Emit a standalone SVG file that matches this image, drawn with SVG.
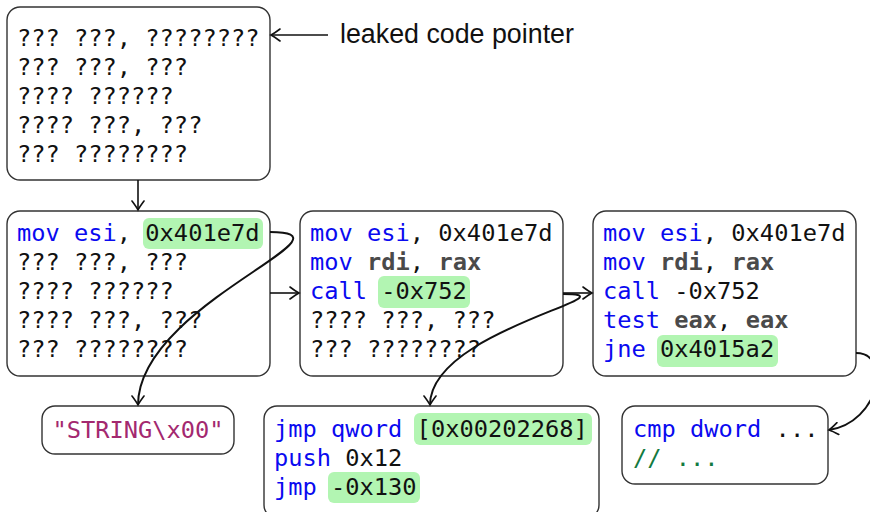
<svg xmlns="http://www.w3.org/2000/svg" width="870" height="512" viewBox="0 0 870 512">
<defs>
<style>
.box{fill:#fff;stroke:#333;stroke-width:1.4}
.hl{fill:#b2f5b2}
.code{font-family:"DejaVu Sans Mono",monospace;font-size:23.7px;fill:#111}
.k{fill:#0a0af0}
.r{fill:#4a4a4a;font-weight:bold}
.s{fill:#a3286f}
.c{fill:#137a40}
.lbl{font-family:"Liberation Sans",Arial,sans-serif;font-size:26.8px;fill:#111}
.ln{fill:none;stroke:#111;stroke-width:1.6}
.cv{fill:none;stroke:#111;stroke-width:2}
</style>
<marker id="arr" viewBox="-11 -7 13 14" refX="0" refY="0" markerWidth="13" markerHeight="14" orient="auto" markerUnits="userSpaceOnUse">
<path d="M -9 -6 Q -3 -1.5 0 0 Q -3 1.5 -9 6" fill="none" stroke="#111" stroke-width="1.6" stroke-linecap="round"/>
</marker>
</defs>
<rect width="870" height="512" fill="#fff"/>

<g id="leak">
<rect class="box" x="7" y="7" width="263" height="173" rx="13"/>
<text class="code" x="17" y="46">??? ???, ????????</text>
<text class="code" x="17" y="75">??? ???, ???</text>
<text class="code" x="17" y="104">???? ??????</text>
<text class="code" x="17" y="133">???? ???, ???</text>
<text class="code" x="17" y="162">??? ????????</text>
</g>

<g id="label">
<text class="lbl" x="340" y="43">leaked code pointer</text>
</g>

<g id="blockA">
<rect class="box" x="7" y="211" width="263" height="165" rx="13"/>
<rect class="hl" x="143" y="218" width="120" height="31" rx="6"/>
<text class="code" x="17" y="241"><tspan class="k">mov esi</tspan>, 0x401e7d</text>
<text class="code" x="17" y="270">??? ???, ???</text>
<text class="code" x="17" y="299">???? ??????</text>
<text class="code" x="17" y="328">???? ???, ???</text>
<text class="code" x="17" y="357">??? ????????</text>
</g>

<g id="blockB">
<rect class="box" x="300" y="211" width="263" height="165" rx="13"/>
<rect class="hl" x="378" y="276" width="92" height="32" rx="6"/>
<text class="code" x="310" y="241"><tspan class="k">mov esi</tspan>, 0x401e7d</text>
<text class="code" x="310" y="270"><tspan class="k">mov</tspan> <tspan class="r">rdi</tspan>, <tspan class="r">rax</tspan></text>
<text class="code" x="310" y="299"><tspan class="k">call</tspan> -0x752</text>
<text class="code" x="310" y="328">???? ???, ???</text>
<text class="code" x="310" y="357">??? ????????</text>
</g>

<g id="blockC">
<rect class="box" x="593" y="211" width="263" height="165" rx="13"/>
<rect class="hl" x="657" y="335" width="121" height="32" rx="6"/>
<text class="code" x="603" y="241"><tspan class="k">mov esi</tspan>, 0x401e7d</text>
<text class="code" x="603" y="270"><tspan class="k">mov</tspan> <tspan class="r">rdi</tspan>, <tspan class="r">rax</tspan></text>
<text class="code" x="603" y="299"><tspan class="k">call</tspan> -0x752</text>
<text class="code" x="603" y="328"><tspan class="k">test</tspan> <tspan class="r">eax</tspan>, <tspan class="r">eax</tspan></text>
<text class="code" x="603" y="357"><tspan class="k">jne</tspan> 0x4015a2</text>
</g>

<g id="string">
<rect class="box" x="42" y="406" width="192" height="48" rx="13"/>
<text class="code s" x="138" y="438" text-anchor="middle">"STRING\x00"</text>
</g>

<g id="plt">
<rect class="box" x="264" y="406" width="335" height="112" rx="13"/>
<rect class="hl" x="414" y="413" width="178" height="32" rx="6"/>
<rect class="hl" x="328" y="472" width="92" height="31" rx="6"/>
<text class="code" x="274" y="437"><tspan class="k">jmp qword</tspan> [0x00202268]</text>
<text class="code" x="274" y="466"><tspan class="k">push</tspan> 0x12</text>
<text class="code" x="274" y="495"><tspan class="k">jmp</tspan> -0x130</text>
</g>

<g id="target">
<rect class="box" x="622" y="406" width="206" height="78" rx="13"/>
<text class="code" x="633" y="437"><tspan class="k">cmp dword</tspan> ...</text>
<text class="code c" x="633" y="466">// ...</text>
</g>

<g id="connectors">
<path class="ln" d="M 328 35 L 271 35" marker-end="url(#arr)"/>
<path class="ln" d="M 138 180 L 138 210" marker-end="url(#arr)"/>
<path class="ln" d="M 270 293 L 299 293" marker-end="url(#arr)"/>
<path class="ln" d="M 563 293 L 592 293" marker-end="url(#arr)"/>
<path class="cv" d="M 270 232 C 365 232, 138 305, 138 405" marker-end="url(#arr)"/>
<path class="cv" d="M 563 294 C 640 294, 430 330, 430 405" marker-end="url(#arr)"/>
<path class="cv" d="M 856 353 C 892 353, 880 422, 829 430" marker-end="url(#arr)"/>
</g>
</svg>
